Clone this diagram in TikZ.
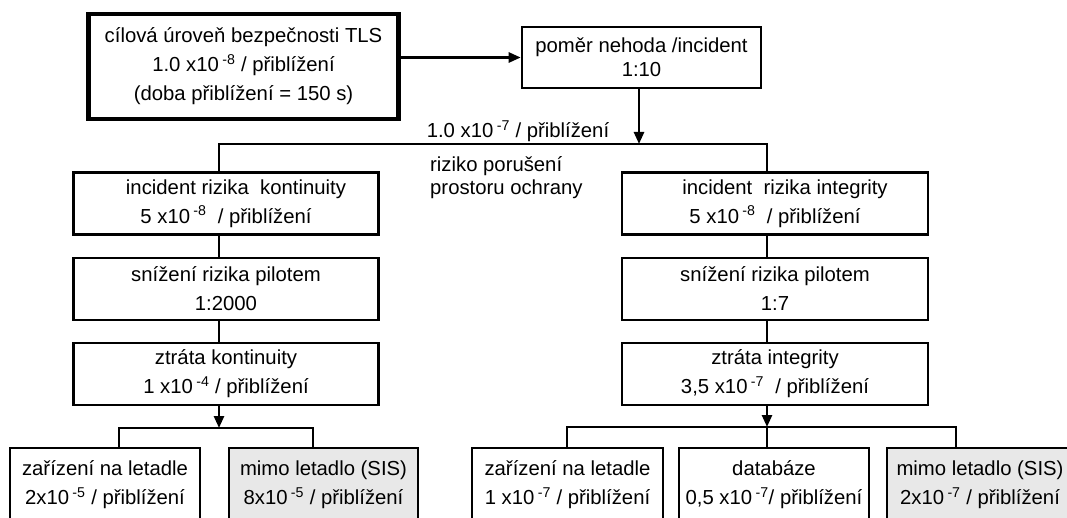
\documentclass[tikz,border=0pt]{standalone}
\usepackage{fontspec}
\setmainfont{Liberation Sans}
\usetikzlibrary{arrows.meta}

\newcommand{\expo}[1]{\,\textsuperscript{#1}}

\tikzset{
  box/.style={draw, line width=2.6pt, align=center, inner sep=0pt,
    minimum width=305pt, minimum height=62pt, font=\fontsize{20.3}{29}\selectfont},
  greybox/.style={box, fill=gray!18},
  link/.style={line width=2.6pt},
  arr/.style={link, -{Triangle[length=12pt,width=10pt]}},
  lbl/.style={inner sep=0pt, font=\fontsize{20.3}{23}\selectfont},
}

\begin{document}
\begin{tikzpicture}[x=1pt,y=-1pt]
    \useasboundingbox (0,0) rectangle (1067,518);
    \clip (0,0) rectangle (1067,518);
    % Draw the top boxes
    \node[box, line width=4.5pt, minimum width=310pt, minimum height=105pt] (tls) at (243.5,66.5) {cílová úroveň bezpečnosti TLS\\1.0 x10\expo{-8} / přiblížení\\(doba přiblížení = 150 s)};
    \node[box, minimum width=239pt, minimum height=61pt, font=\fontsize{20.3}{24}\selectfont] (ratio) at (641.5,57.5) {poměr nehoda /incident\\1:10};
    \draw[arr] (tls.east |- ratio.west) -- (ratio.west);
    % Split into two branches
    \coordinate (split) at (639,144);
    \coordinate (lbus) at (219,144);
    \coordinate (rbus) at (767,144);
    \draw[arr] (ratio.south -| split) -- (split);
    \node[lbl] (rate) at (518,131) {1.0 x10\expo{-7} / přiblížení};
    \node[lbl, anchor=west, align=left] (breach) at (430,178) {riziko porušení\\prostoru ochrany};
    % Left column
    \node[box] (lkinc) at (226,203.5) {\hspace*{20pt}incident rizika \ kontinuity\\5 x10\expo{-8}\ \ / přiblížení};
    \node[box] (lkpil) at (226,289) {snížení rizika pilotem\\1:2000};
    \node[box] (lkloss) at (226,374) {ztráta kontinuity\\1 x10\expo{-4} / přiblížení};
    % Right column
    \node[box, minimum width=306pt] (rinc) at (775,203.5) {\hspace*{20pt}incident \ rizika integrity\\5 x10\expo{-8}\ \ / přiblížení};
    \node[box, minimum width=306pt] (rpil) at (775,289) {snížení rizika pilotem\\1:7};
    \node[box, minimum width=306pt] (rloss) at (775,374) {ztráta integrity\\3,5 x10\expo{-7}\ \ / přiblížení};
    \draw[link] (lbus |- lkinc.north) -- (lbus) -- (rbus) -- (rbus |- rinc.north);
    \draw[link] (lkinc.south -| lbus) -- (lkpil.north -| lbus);
    \draw[link] (lkpil.south -| lbus) -- (lkloss.north -| lbus);
    \draw[link] (rinc.south -| rbus) -- (rpil.north -| rbus);
    \draw[link] (rpil.south -| rbus) -- (rloss.north -| rbus);
    % Bottom row, left
    \coordinate (lfork) at (219,428);
    \coordinate (lfa) at (119,428);
    \coordinate (lfb) at (313,428);
    \node[box, minimum width=190pt, minimum height=74pt] (la) at (105,485) {zařízení na letadle\\2x10\expo{-5} / přiblížení};
    \node[greybox, minimum width=189pt, minimum height=74pt] (lb) at (323.5,485) {mimo letadlo (SIS)\\8x10\expo{-5} / přiblížení};
    \draw[arr] (lkloss.south -| lfork) -- (lfork);
    \draw[link] (la.north -| lfa) -- (lfa) -- (lfb) -- (lb.north -| lfb);
    % Bottom row, right
    \coordinate (rfork) at (767,427);
    \coordinate (rfa) at (567,427);
    \coordinate (rfc) at (956,427);
    \node[box, minimum width=191pt, minimum height=74pt] (ra) at (567.5,485) {zařízení na letadle\\1 x10\expo{-7} / přiblížení};
    \node[box, minimum width=190pt, minimum height=74pt] (rb) at (774,485) {databáze\\0,5 x10\expo{-7}/ přiblížení};
    \node[greybox, minimum width=186pt, minimum height=74pt] (rc) at (980,485) {mimo letadlo (SIS)\\2x10\expo{-7} / přiblížení};
    \draw[arr] (rloss.south -| rfork) -- (rfork);
    \draw[link] (ra.north -| rfa) -- (rfa) -- (rfc) -- (rc.north -| rfc);
    \draw[link] (rfork) -- (rb.north -| rfork);
\end{tikzpicture}
\end{document}
